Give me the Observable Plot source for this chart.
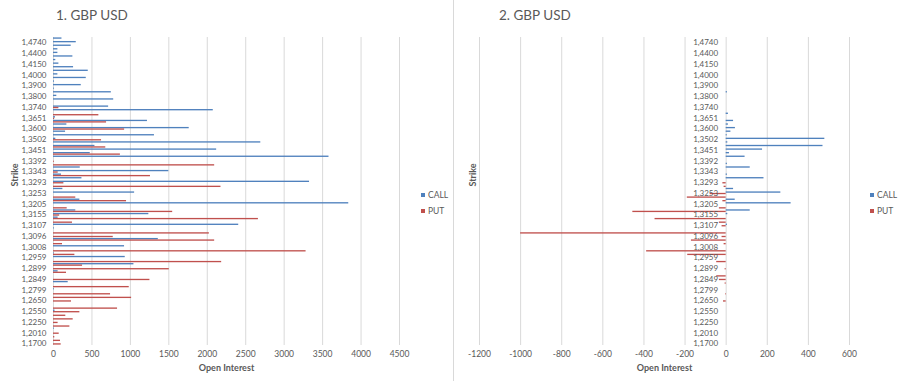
<!DOCTYPE html>
<html><head><meta charset="utf-8">
<script src="https://cdn.jsdelivr.net/npm/d3@7"></script>
<script src="https://cdn.jsdelivr.net/npm/@observablehq/plot@0.6"></script>
<style>
body{margin:0;background:#fff;font-family:Lato,"Open Sans",sans-serif;}
#wrap{position:relative;width:900px;height:381px;overflow:hidden;background:#fff}
.title{position:absolute;top:7px;font-size:13.5px;color:#595959;line-height:16px;white-space:nowrap}
.leg{position:absolute;font-size:8.5px;color:#595959;line-height:10px;white-space:nowrap}
.leg i{display:inline-block;width:4px;height:4px;margin-right:3px;vertical-align:1px}
.divider{position:absolute;left:453px;top:0;width:1px;height:381px;background:#D9D9D9}
#p1{position:absolute;left:0;top:0}
#p2{position:absolute;left:454px;top:0}
</style></head><body>
<div id="wrap">
  <div id="p1"></div>
  <div id="p2"></div>
  <div class="divider"></div>
  <div class="title" style="left:56px">1. GBP USD</div>
  <div class="title" style="left:499px">2. GBP USD</div>
  <div class="leg" style="left:421px;top:190px"><i style="background:#4F81BD"></i>CALL</div>
  <div class="leg" style="left:421px;top:206px"><i style="background:#C0504D"></i>PUT</div>
  <div class="leg" style="left:870px;top:190px"><i style="background:#4F81BD"></i>CALL</div>
  <div class="leg" style="left:870px;top:206px"><i style="background:#C0504D"></i>PUT</div>
</div>
<script>
// Strikes, top to bottom (only every third one is labelled on the axis)
const strikes = ["1,5000","1,4740","1,4600","1,4500","1,4400","1,4300","1,4250","1,4150","1,4100","1,4050",
"1,4000","1,3970","1,3940","1,3900","1,3870","1,3840","1,3800","1,3780","1,3760","1,3740",
"1,3700","1,3680","1,3651","1,3640","1,3620","1,3600","1,3570","1,3550","1,3502","1,3490",
"1,3470","1,3451","1,3430","1,3410","1,3392","1,3380","1,3360","1,3343","1,3330","1,3310",
"1,3293","1,3280","1,3270","1,3253","1,3240","1,3220","1,3205","1,3190","1,3170","1,3155",
"1,3140","1,3120","1,3107","1,3103","1,3100","1,3096","1,3080","1,3050","1,3008","1,3000",
"1,2980","1,2959","1,2930","1,2910","1,2899","1,2880","1,2860","1,2849","1,2830","1,2810",
"1,2799","1,2750","1,2700","1,2650","1,2620","1,2600","1,2550","1,2450","1,2350","1,2250",
"1,2200","1,2100","1,2010","1,1900","1,1800","1,1700"];
const tickStrikes = ["1,4740","1,4400","1,4150","1,4000","1,3900","1,3800","1,3740","1,3651","1,3600","1,3502",
"1,3451","1,3392","1,3343","1,3293","1,3253","1,3205","1,3155","1,3107","1,3096","1,3008",
"1,2959","1,2899","1,2849","1,2799","1,2650","1,2550","1,2250","1,2010","1,1700"];

// Chart 1: open interest
const callOI1 = [110,296,230,57,57,252,30,70,261,452, 57,426,13,361,10,752,43,783,0,717,
2078,0,26,1222,174,1765,157,1313,30,2696, 539,2122,478,3583,0,0,348,1500,104,370,
3330,0,122,1055,0,343,3840,0,290,1240, 60,0,2409,10,0,0,1363,0,924,0,
10,933,0,1046,0,60,0,0,191,0, 10,0,0,0,0,0,20,0,0,0, 0,10,0,0,0,0];
const putOI1 = [0,0,0,0,0,0,0,0,0,0, 0,0,0,0,0,0,0,0,0,70,
0,590,15,690,0,925,0,0,625,0, 680,0,870,0,10,2096,0,61,1261,0,
135,2178,0,0,290,950,0,178,1550,80, 2665,247,0,0,2027,777,2096,117,0,3285,
278,0,2187,378,1506,169,0,1254,0,985, 0,742,1016,234,0,833,343,160,256,60,
213,0,74,17,91,100];

// Chart 2: change in open interest
const callOI2 = [0,0,0,0,0,0,0,0,0,0, 0,0,0,0,0,6,0,0,0,0,
0,11,0,36,11,45,23,5,480,8, 471,177,16,92,0,6,117,0,6,184,
0,0,36,266,0,44,316,0,117,8, 0,0,6,0,0,0,0,0,0,0,
0,0,0,0,0,0,0,0,0,0, 0,0,0,0,0,0,0,0,0,0, 0,0,0,0,0,0];
const putOI2 = [0,0,0,0,0,0,0,0,0,0, 0,0,0,0,0,0,0,0,0,0,
0,0,0,0,0,0,0,0,0,0, 0,0,0,0,0,0,0,0,0,0,
-16,-10,0,-78,-189,-16,0,-33,-454,0, -346,-33,-20,0,-1000,-20,-169,-10,0,-387,
-187,0,-46,0,-5,0,-46,-33,-5,0, 0,-3,0,-13,0,0,0,0,0,0, 0,0,0,0,0,0];

const xTicks1 = d3.range(0, 4501, 500);
const xTicks2 = d3.range(-1200, 601, 200);
const axisCross = 0;

const CALL_COLOR = "#4F81BD", PUT_COLOR = "#C0504D", GRID = "#D9D9D9";

function panel({calls, puts, domain, ticks, width, marginLeft, marginRight, innerAxis}) {
  const rows = strikes.map((s, i) => ({strike: s, call: calls[i], put: puts[i]}));
  const marks = [
    Plot.gridX(ticks.filter(d => d !== 0), {stroke: GRID, strokeOpacity: 1}),
    Plot.ruleX([axisCross], {stroke: GRID}),
    Plot.barX(rows, {y: "strike", x: "call", fill: CALL_COLOR, insetTop: 0.4, insetBottom: 1.85}),
    Plot.barX(rows, {y: "strike", x: "put", fill: PUT_COLOR, insetTop: 1.85, insetBottom: 0.4}),
    Plot.axisX(ticks, {tickSize: 0, tickPadding: 5, tickFormat: d => String(d), label: null}),
    Plot.text(["Open Interest"], {frameAnchor: "bottom", dy: 25, fontWeight: "bold", fontSize: 9}),
    Plot.text(["Strike"], {frameAnchor: "left", dx: innerAxis ? -6 : -38, dy: -5, rotate: -90, fontWeight: "bold", fontSize: 9})
  ];
  if (innerAxis) {
    marks.push(Plot.text(tickStrikes, {y: d => d, x: () => axisCross, dx: -8, textAnchor: "end", fontSize: 8}));
  } else {
    marks.push(Plot.axisY(tickStrikes, {tickSize: 0, tickPadding: 7, label: null, fontSize: 8}));
  }
  return Plot.plot({
    width, height: 381,
    marginLeft, marginRight, marginTop: 37, marginBottom: 36,
    style: {fontFamily: "Lato, 'Open Sans', sans-serif", fontSize: "8.5px", color: "#595959", background: "transparent", overflow: "visible"},
    x: {domain, round: false},
    y: {domain: strikes, padding: 0, round: false, axis: innerAxis ? null : undefined},
    marks
  });
}

document.getElementById("p1").appendChild(panel({calls: callOI1, puts: putOI1, domain: [0, 4500], ticks: xTicks1, width: 453, marginLeft: 53, marginRight: 54, innerAxis: false}));
document.getElementById("p2").appendChild(panel({calls: callOI2, puts: putOI2, domain: [-1200, 600], ticks: xTicks2, width: 446, marginLeft: 25, marginRight: 51, innerAxis: true}));
</script>
</body></html>
